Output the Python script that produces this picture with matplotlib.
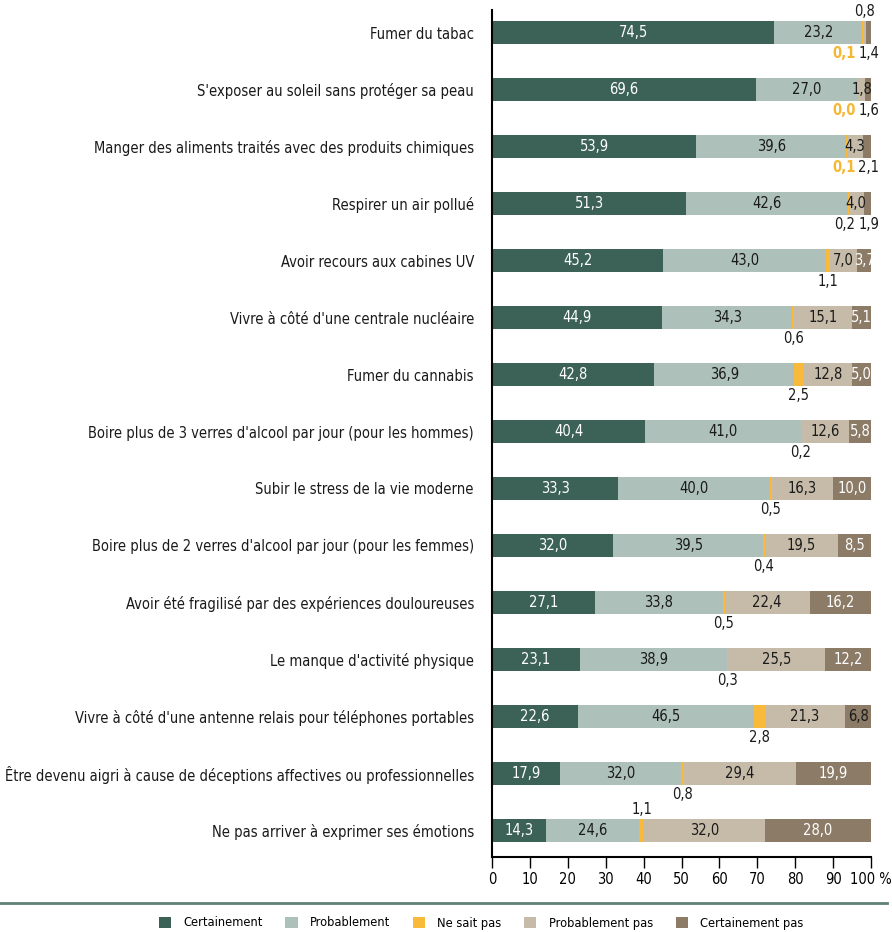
import matplotlib
matplotlib.use("Agg")
import matplotlib.pyplot as plt
from matplotlib.patches import Patch

categories = [
    "Fumer du tabac",
    "S'exposer au soleil sans protéger sa peau",
    "Manger des aliments traités avec des produits chimiques",
    "Respirer un air pollué",
    "Avoir recours aux cabines UV",
    "Vivre à côté d'une centrale nucléaire",
    "Fumer du cannabis",
    "Boire plus de 3 verres d'alcool par jour (pour les hommes)",
    "Subir le stress de la vie moderne",
    "Boire plus de 2 verres d'alcool par jour (pour les femmes)",
    "Avoir été fragilisé par des expériences douloureuses",
    "Le manque d'activité physique",
    "Vivre à côté d'une antenne relais pour téléphones portables",
    "Être devenu aigri à cause de déceptions affectives ou professionnelles",
    "Ne pas arriver à exprimer ses émotions",
]
series_names = ["Certainement", "Probablement", "Ne sait pas", "Probablement pas", "Certainement pas"]
certainement = [74.5, 69.6, 53.9, 51.3, 45.2, 44.9, 42.8, 40.4, 33.3, 32.0, 27.1, 23.1, 22.6, 17.9, 14.3]
probablement = [23.2, 27.0, 39.6, 42.6, 43.0, 34.3, 36.9, 41.0, 40.0, 39.5, 33.8, 38.9, 46.5, 32.0, 24.6]
ne_sait_pas = [0.1, 0.0, 0.1, 0.2, 1.1, 0.6, 2.5, 0.2, 0.5, 0.4, 0.5, 0.3, 2.8, 0.8, 1.1]
probablement_pas = [0.8, 1.8, 4.3, 4.0, 7.0, 15.1, 12.8, 12.6, 16.3, 19.5, 22.4, 25.5, 21.3, 29.4, 32.0]
certainement_pas = [1.4, 1.6, 2.1, 1.9, 3.7, 5.1, 5.0, 5.8, 10.0, 8.5, 16.2, 12.2, 6.8, 19.9, 28.0]
x_ticks = [0, 10, 20, 30, 40, 50, 60, 70, 80, 90, 100]

series = [certainement, probablement, ne_sait_pas, probablement_pas, certainement_pas]
colors = ["#3c6258", "#adc0b9", "#f9b93b", "#c6bba9", "#8b7b67"]
orange_text = "#f5b731"
dark = "#1a1a1a"

num_font = dict(family="DejaVu Sans", stretch="condensed")
NS = 10.5

def fmt(v):
    return f"{v:.1f}".replace(".", ",")

W, H = 892, 932
fig = plt.figure(figsize=(W / 100, H / 100), dpi=100)
ax = fig.add_axes([492 / W, 1 - 857 / H, 379 / W, 847 / H])

n = len(categories)
ys = list(range(n))
bh = 0.40
left = [0.0] * n
for j, vals in enumerate(series):
    ax.barh(ys, vals, left=left, height=bh, color=colors[j], edgecolor="none", label=series_names[j])
    for i in range(n):
        v = vals[i]
        cx = left[i] + v / 2
        y = ys[i]
        if j == 0:
            ax.text(cx, y, fmt(v), ha="center", va="center", color="white", fontsize=NS, **num_font)
        elif j == 1:
            ax.text(cx, y, fmt(v), ha="center", va="center", color=dark, fontsize=NS, **num_font)
        elif j == 2:
            col = orange_text if i <= 2 else dark
            x = cx if i > 3 else 93.0
            if i == n - 1:
                ax.text(x, y - 0.24, fmt(v), ha="center", va="bottom", color=col, fontsize=NS, **num_font)
            else:
                ax.text(x, y + 0.24, fmt(v), ha="center", va="top", color=col, fontsize=NS,
                        fontweight="bold" if col == orange_text else "normal", **num_font)
        elif j == 3:
            if i == 0:
                ax.text(cx, y - 0.24, fmt(v), ha="center", va="bottom", color=dark, fontsize=NS, **num_font)
            else:
                ax.text(cx, y, fmt(v), ha="center", va="center", color=dark, fontsize=NS, **num_font)
        else:
            if i <= 3:
                ax.text(cx + 0.3, y + 0.24, fmt(v), ha="center", va="top", color=dark, fontsize=NS, **num_font)
            else:
                col = dark if i == 12 else "white"
                ax.text(cx, y, fmt(v), ha="center", va="center", color=col, fontsize=NS, **num_font)
        left[i] += v

ax.set_xlim(0, 100)
ax.set_ylim(n - 1 + 0.47, -0.4)
ax.set_yticks(ys)
ax.set_yticklabels(categories, fontsize=10.5, color=dark, **num_font)
ax.tick_params(axis="y", length=0, pad=13)
ax.set_xticks(x_ticks)
ax.set_xticklabels([str(t) if t < 100 else "100 %" for t in x_ticks], fontsize=NS, **num_font)
ax.tick_params(axis="x", length=8, width=1, pad=3, direction="out")
for s in ["top", "right"]:
    ax.spines[s].set_visible(False)
ax.spines["left"].set_linewidth(1.5)
ax.spines["bottom"].set_linewidth(1.5)

fig.add_artist(plt.Line2D([0, 887 / W], [1 - 903 / H, 1 - 903 / H], color="#5e8076", lw=2))

handles = [Patch(facecolor=c, edgecolor="none") for c in colors]
fig.legend(handles, series_names, loc="center", bbox_to_anchor=(481 / W, 1 - 923 / H), ncol=5,
           frameon=False, handlelength=0.95, handleheight=0.95, handletextpad=0.95, columnspacing=1.8,
           borderpad=0, borderaxespad=0, prop=dict(size=9.2, **num_font))

fig.savefig("out.png", dpi=100)
